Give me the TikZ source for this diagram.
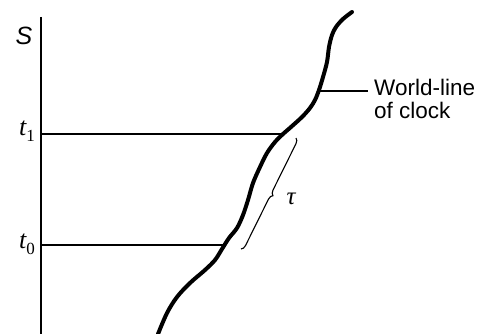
\documentclass[tikz,border=0pt]{standalone}
\usepackage{fontspec}
\setsansfont{Liberation Sans}
\newfontfamily\timesfont{Liberation Serif}
\usetikzlibrary{decorations.pathreplacing}
\newcommand{\tlab}[1]{{\timesfont\itshape t}\raisebox{-0.22em}{\fontsize{17}{17}\selectfont\timesfont #1}}
\begin{document}
\begin{tikzpicture}[x=1pt,y=-1pt,
  axisline/.style={line width=2.4pt},
  hline/.style={line width=2.6pt},
  worldline/.style={line width=4pt,line cap=round,line join=round},
  leader/.style={line width=1.2pt},
  bracestyle/.style={line width=1.1pt,decorate,decoration={brace,amplitude=5pt}},
  lab/.style={inner sep=0pt}]
\useasboundingbox (0,0) rectangle (484,334);
% axis
\coordinate (axtop) at (41,17);
\coordinate (axbot) at (41,334);
\draw[axisline] (axtop) -- (axbot);
\node[lab,font=\fontsize{25}{25}\selectfont\sffamily\itshape] (S) at (24,36) {S};
% time levels
\coordinate (a1) at (41,134);
\coordinate (a0) at (41,245);
\coordinate (p1) at (283,134);
\coordinate (p0) at (226,245);
\draw[hline] (a1) -- (p1);
\draw[hline] (a0) -- (p0);
\node[lab,font=\fontsize{26}{26}\selectfont] (t1) at (27,131) {\tlab{1}};
\node[lab,font=\fontsize{26}{26}\selectfont] (t0) at (27,244) {\tlab{0}};
% world-line
\draw[worldline] plot[smooth,tension=0.55] coordinates {
 (158,334) (167,313) (177,297) (190,283) (205,270) (215,260) (222,249)
 (229,238) (237,228) (243,215) (248,200) (253,183) (260,167) (267,153)
 (275,142) (283,134) (291,127) (302,117) (310,108) (315,100) (319,90)
 (323,77) (327,62) (329,47) (332,35) (336,27) (343,19) (352,12)};
% leader and label
\coordinate (lw) at (318,91);
\coordinate (le) at (368,91);
\draw[leader] (lw) -- (le);
\node[lab,anchor=north west,align=left,font=\fontsize{22.5}{23}\selectfont\sffamily] (wl) at (374,79) {World-line\\of clock};
% brace
\coordinate (bt) at (296,138);
\coordinate (bb) at (241,249);
\draw[bracestyle] (bt) -- (bb);
\node[lab,font=\fontsize{25}{25}\selectfont\timesfont\itshape] (tau) at (291,199) {τ};
\end{tikzpicture}
\end{document}
